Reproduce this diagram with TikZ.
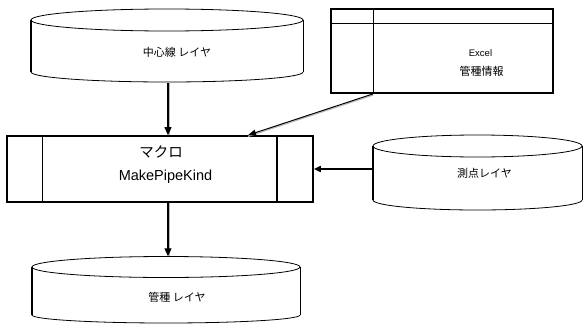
\documentclass[tikz,border=0pt]{standalone}
\usepackage{fontspec}
\setmainfont{Liberation Sans}
\newfontfamily\jp{Noto Sans CJK JP}
\usetikzlibrary{arrows.meta}

\tikzset{
  outline/.style={draw=black, line width=0.8pt},
  heavyside/.style={draw=black, line width=1.8pt},
  frame/.style={draw=black, line width=1.7pt, inner sep=0pt},
  area/.style={inner sep=0pt},
  label/.style={inner sep=0pt, font=\jp\fontsize{11}{13}\selectfont},
  biglabel/.style={inner sep=0pt, font=\fontsize{14.5}{17}\selectfont},
  flowdown/.style={-{Triangle[length=8pt,width=7pt]}, line width=1.1pt, draw=black,
    preaction={draw=gray!55, line width=1.4pt, -, transform canvas={xshift=1.4pt}}},
  flowslant/.style={-{Triangle[length=8pt,width=6pt]}, line width=1pt, draw=black,
    preaction={draw=gray!55, line width=1.2pt, -, transform canvas={yshift=-1.2pt}}},
  flowside/.style={-{Triangle[length=7pt,width=6pt]}, line width=1.8pt, draw=black}
}

\begin{document}
\begin{tikzpicture}[x=1pt, y=-1pt]
\useasboundingbox (0,0) rectangle (583,324);

% ---- layer drum: centre line ----
\node[area, minimum width=272pt, minimum height=74pt] (c1) at (167,46) {};
\draw[outline] (167,20) ellipse [x radius=136, y radius=11];
\draw[heavyside] (31,20) -- (31,72);
\draw[outline] (303,20) -- (303,72);
\begin{scope}
  \clip (20,72) rectangle (320,90);
  \draw[outline] (167,72) ellipse [x radius=136, y radius=10];
\end{scope}
\node[label] (c1t) at (177,52) {中心線 レイヤ};

% ---- Excel sheet ----
\node[frame, minimum width=222pt, minimum height=84pt] (e) at (442,51) {};
\draw[line width=0.8pt] ([xshift=43pt]e.north west) -- ([xshift=43pt]e.south west);
\draw[line width=0.8pt] ([yshift=-15pt]e.north west) -- ([yshift=-15pt]e.north east);
\node[inner sep=0pt, font=\fontsize{9.5}{11}\selectfont] (et1) at (480.5,53) {Excel};
\node[label] (et2) at (481.5,71) {管種情報};

% ---- macro box ----
\node[frame, minimum width=306pt, minimum height=66pt] (m) at (160,169) {};
\draw[line width=1.2pt] ([xshift=36pt]m.north west) -- ([xshift=36pt]m.south west);
\draw[line width=1.6pt] ([xshift=-37pt]m.north east) -- ([xshift=-37pt]m.south east);
\node[biglabel, font=\jp\fontsize{14.5}{17}\selectfont] (mt1) at (161,152) {マクロ};
\node[biglabel] (mt2) at (165.5,177) {MakePipeKind};

% ---- layer drum: survey points ----
\node[area, minimum width=209pt, minimum height=75pt] (s) at (477.5,172.5) {};
\draw[outline] (477.5,146) ellipse [x radius=104.5, y radius=11];
\draw[heavyside] (373,146) -- (373,200);
\draw[outline] (582,146) -- (582,200);
\begin{scope}
  \clip (360,200) rectangle (590,220);
  \draw[outline] (477.5,200) ellipse [x radius=104.5, y radius=10];
\end{scope}
\node[label] (st) at (484.5,173) {測点レイヤ};

% ---- layer drum: pipe kind ----
\node[area, minimum width=268pt, minimum height=67.5pt] (b) at (166,290.25) {};
\draw[outline] (166,267) ellipse [x radius=134, y radius=10.5];
\draw[heavyside] (32,267) -- (32,315);
\draw[outline] (300,267) -- (300,315);
\begin{scope}
  \clip (20,315) rectangle (320,330);
  \draw[outline] (166,315) ellipse [x radius=134, y radius=8];
\end{scope}
\node[label] (bt) at (177,297) {管種 レイヤ};

% ---- connectors ----
\coordinate (lane) at (168,0);
\draw[flowdown] (c1.south -| lane) -- (m.north -| lane);
\draw[flowslant] ([xshift=43pt]e.south west) -- ([xshift=88pt]m.north);
\draw[flowside] (s.west |- m.east) -- (m.east);
\draw[flowdown] (m.south -| lane) -- (b.north -| lane);
\end{tikzpicture}
\end{document}
